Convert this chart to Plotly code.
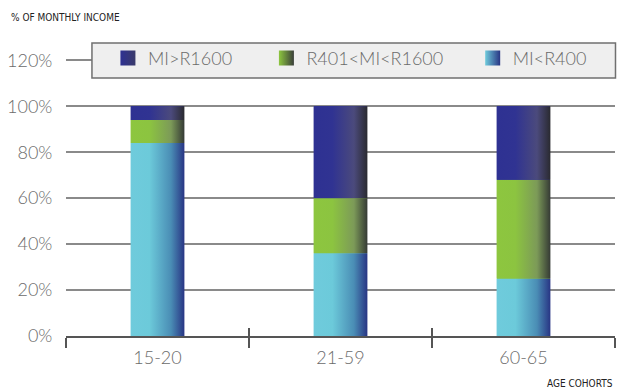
import plotly.graph_objects as go

categories = ["15-20", "21-59", "60-65"]
series_names = ["MI>R1600", "R401<MI<R1600", "MI<R400"]
mi_low = [84, 36, 25]      # MI<R400 (bottom)
mi_mid = [10, 24, 43]      # R401<MI<R1600
mi_high = [6, 40, 32]      # MI>R1600 (top)
y_ticks = [0, 20, 40, 60, 80, 100, 120]
y_tick_labels = ["0%", "20%", "40%", "60%", "80%", "100%", "120%"]

base_colors = {"MI>R1600": "#2e3192", "R401<MI<R1600": "#8dc63f", "MI<R400": "#6fcbdc"}
end_colors = {"MI>R1600": "#3a3a6a", "R401<MI<R1600": "#3a3f3a", "MI<R400": "#283584"}
gradients = {
    "MI>R1600": [[0, "#2e3192"], [0.35, "#303392"], [0.75, "#4b4a7c"], [1, "#2a2a30"]],
    "R401<MI<R1600": [[0, "#8dc63f"], [0.35, "#8cc440"], [0.75, "#7c9a58"], [1, "#353a35"]],
    "MI<R400": [[0, "#6fcbdc"], [0.35, "#6ccada"], [0.75, "#4a8db5"], [1, "#283584"]],
}
legend_pad = {"MI>R1600": 6, "R401<MI<R1600": 5, "MI<R400": 0}

BAR_W = 0.294
xs = list(range(len(categories)))

fig = go.Figure()

stack = [("MI<R400", mi_low), ("R401<MI<R1600", mi_mid), ("MI>R1600", mi_high)]

# solid stacked bars
for name, vals in stack:
    fig.add_trace(go.Bar(x=xs, y=vals, name=name, width=BAR_W,
                         marker=dict(color=base_colors[name], line=dict(width=0)),
                         showlegend=False))

# gradient overlays, one polygon per segment
bases = [0] * len(categories)
for name, vals in stack:
    for i, v in enumerate(vals):
        b = bases[i]
        t = b + v
        x0, x1 = xs[i] - BAR_W / 2, xs[i] + BAR_W / 2
        fig.add_trace(go.Scatter(
            x=[x0, x1, x1, x0, x0], y=[b, b, t, t, b],
            mode="lines", line=dict(width=0), fill="toself",
            fillgradient=dict(type="horizontal", colorscale=gradients[name]),
            hoverinfo="skip", showlegend=False))
        bases[i] = t

# legend entries (square markers with horizontal gradient)
for name in series_names:
    fig.add_trace(go.Scatter(
        x=[None], y=[None], mode="markers", name=name + "\u00a0" * legend_pad[name],
        marker=dict(symbol="square", size=15, color=base_colors[name],
                    gradient=dict(type="horizontal", color=end_colors[name]),
                    line=dict(width=0)),
        showlegend=True, hoverinfo="skip"))

# dummy trace for overlay axis (upward part of crossing ticks)
fig.add_trace(go.Scatter(x=[None], y=[None], xaxis="x2", showlegend=False, hoverinfo="skip"))

FONT = "Lato"
fig.update_layout(
    barmode="stack",
    width=622, height=390,
    margin=dict(l=66, r=7, t=58, b=54),
    plot_bgcolor="white", paper_bgcolor="white",
    font=dict(family=FONT, color="#6b6b6b"),
    xaxis=dict(range=[-0.5, 2.5], tickvals=xs, ticktext=categories, ticks="",
               showgrid=False, zeroline=False, showline=True, linecolor="#555555", linewidth=1.5,
               tickfont=dict(family=FONT, size=18, color="#6b6b6b", weight=300), ticklabelstandoff=5,
               minor=dict(tickvals=[-0.5, 0.5, 1.5, 2.5], ticks="outside", ticklen=10,
                          tickwidth=1.5, tickcolor="#555555", showgrid=False)),
    xaxis2=dict(range=[-0.5, 2.5], overlaying="x", anchor="y", side="bottom",
                tickvals=[-0.5, 0.5, 1.5, 2.5], ticks="inside", ticklen=8, tickwidth=1.5,
                tickcolor="#555555", showticklabels=False, showgrid=False, zeroline=False,
                showline=False),
    yaxis=dict(range=[0, 121], tickvals=y_ticks, ticktext=y_tick_labels,
               showgrid=True, gridcolor="#8a8a8a", gridwidth=1.5, zeroline=False,
               ticks="outside", ticklen=9, tickcolor="rgba(0,0,0,0)",
               tickfont=dict(family=FONT, size=18, color="#6b6b6b", weight=300)),
    legend=dict(orientation="h", x=(108 - 66) / 550, xanchor="left", traceorder="normal",
                y=1 + (60.3 - 60.5) / 278, yanchor="middle", bgcolor="rgba(0,0,0,0)",
                font=dict(family=FONT, size=18, color="#6b6b6b", weight=300),
                itemclick=False),
    shapes=[dict(type="rect", xref="paper", yref="paper",
                 x0=(92 - 66) / 550, x1=(616.5 - 66) / 550,
                 y0=1 - (78 - 58) / 278, y1=1 + (58 - 43) / 278,
                 fillcolor="#efefef", line=dict(color="#707070", width=1.5),
                 layer="above")],
    annotations=[
        dict(text="% OF MONTHLY INCOME", xref="paper", yref="paper",
             x=(9 - 66) / 550, y=1 + (58 - 17) / 278, xanchor="left", yanchor="middle",
             showarrow=False, font=dict(family="DejaVu Sans Condensed", size=10, color="#222222")),
        dict(text="AGE COHORTS", xref="paper", yref="paper",
             x=(616 - 66) / 550, y=-(383 - 336) / 278, xanchor="right", yanchor="middle",
             showarrow=False, font=dict(family="DejaVu Sans Condensed", size=10, color="#222222")),
    ],
)

fig.write_html("out.html")
